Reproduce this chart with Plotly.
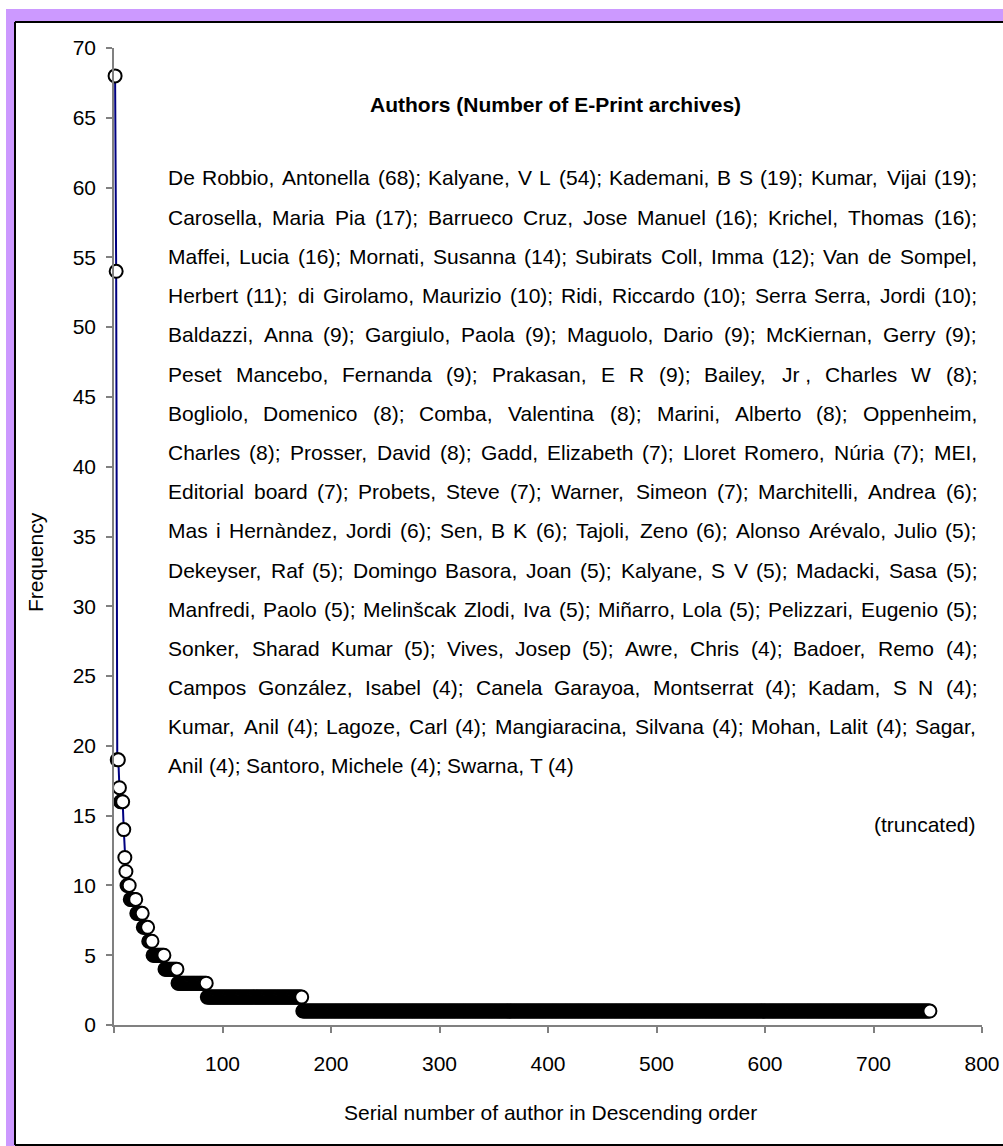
import plotly.graph_objects as go

# ---------------- data ----------------
# frequency distribution: value -> number of authors with that value (descending order)
freq_values = [68, 54, 19, 17, 16, 14, 12, 11, 10, 9, 8, 7, 6, 5, 4, 3, 2, 1]
freq_counts = [1, 1, 2, 1, 3, 1, 1, 1, 3, 6, 6, 5, 4, 11, 12, 27, 88, 579]

x_tick_vals = [0, 100, 200, 300, 400, 500, 600, 700, 800]
x_tick_text = ["", "100", "200", "300", "400", "500", "600", "700", "800"]
y_tick_vals = [0, 5, 10, 15, 20, 25, 30, 35, 40, 45, 50, 55, 60, 65, 70]

title_text = "Authors (Number of E-Print archives)"
text_lines = [
    "De Robbio, Antonella (68); Kalyane, V L (54); Kademani, B S (19); Kumar, Vijai (19);",
    "Carosella, Maria Pia (17); Barrueco Cruz, Jose Manuel (16); Krichel, Thomas (16);",
    "Maffei, Lucia (16); Mornati, Susanna (14); Subirats Coll, Imma (12); Van de Sompel,",
    "Herbert (11); di Girolamo, Maurizio (10); Ridi, Riccardo (10); Serra Serra, Jordi (10);",
    "Baldazzi, Anna (9); Gargiulo, Paola (9); Maguolo, Dario (9); McKiernan, Gerry (9);",
    "Peset Mancebo, Fernanda (9); Prakasan, E R (9); Bailey, Jr , Charles W (8);",
    "Bogliolo, Domenico (8); Comba, Valentina (8); Marini, Alberto (8); Oppenheim,",
    "Charles (8); Prosser, David (8); Gadd, Elizabeth (7); Lloret Romero, Núria (7); MEI,",
    "Editorial board (7); Probets, Steve (7); Warner, Simeon (7); Marchitelli, Andrea (6);",
    "Mas i Hernàndez, Jordi (6); Sen, B K (6); Tajoli, Zeno (6); Alonso Arévalo, Julio (5);",
    "Dekeyser, Raf (5); Domingo Basora, Joan (5); Kalyane, S V (5); Madacki, Sasa (5);",
    "Manfredi, Paolo (5); Melinšcak Zlodi, Iva (5); Miñarro, Lola (5); Pelizzari, Eugenio (5);",
    "Sonker, Sharad Kumar (5); Vives, Josep (5); Awre, Chris (4); Badoer, Remo (4);",
    "Campos González, Isabel (4); Canela Garayoa, Montserrat (4); Kadam, S N (4);",
    "Kumar, Anil (4); Lagoze, Carl (4); Mangiaracina, Silvana (4); Mohan, Lalit (4); Sagar,",
    "Anil (4); Santoro, Michele (4); Swarna, T (4)",
]
note_text = "(truncated)"

# expand distribution into the series
freq = []
for v, c in zip(freq_values, freq_counts):
    freq.extend([v] * c)
serial = list(range(1, len(freq) + 1))

# ---------------- layout helpers ----------------
W, H = 1003, 1146
FONT = "Liberation Sans, Arial, Helvetica, sans-serif"


def px(x):
    return min(max(x / W, 0.0), 1.0)


def py(y):
    return min(max(1 - y / H, 0.0), 1.0)


# Arial / Liberation Sans advance widths (per 1000 em)
AW = {' ': 278, '!': 278, '(': 333, ')': 333, ',': 278, '-': 333, '.': 278, ':': 278, ';': 278,
      'A': 667, 'B': 667, 'C': 722, 'D': 722, 'E': 667, 'F': 611, 'G': 778, 'H': 722, 'I': 278,
      'J': 500, 'K': 667, 'L': 556, 'M': 833, 'N': 722, 'O': 778, 'P': 667, 'Q': 778, 'R': 722,
      'S': 667, 'T': 611, 'U': 722, 'V': 667, 'W': 944, 'X': 667, 'Y': 667, 'Z': 611,
      'a': 556, 'b': 556, 'c': 500, 'd': 556, 'e': 556, 'f': 278, 'g': 556, 'h': 556, 'i': 222,
      'j': 222, 'k': 500, 'l': 222, 'm': 833, 'n': 556, 'o': 556, 'p': 556, 'q': 556, 'r': 333,
      's': 500, 't': 278, 'u': 556, 'v': 500, 'w': 722, 'x': 500, 'y': 500, 'z': 500,
      'š': 500, 'ñ': 556, 'ú': 556, 'à': 556, 'é': 556, 'á': 556}


def tw(s, size):
    return sum(AW.get(ch, 556) for ch in s) * size / 1000.0


TEXT_SIZE = 21
TEXT_LEFT, TEXT_RIGHT = 167, 976
LINE_Y0, LINE_DY = 178, 39.2

annotations = []
for i, line in enumerate(text_lines):
    words = line.replace("Jr ,", "Jr\u00a0,").split(" ")
    widths = [tw(w.replace("\u00a0", " "), TEXT_SIZE) for w in words]
    last = i == len(text_lines) - 1
    if last or len(words) < 2:
        gap = tw(" ", TEXT_SIZE)
    else:
        gap = (TEXT_RIGHT - TEXT_LEFT - sum(widths)) / (len(words) - 1)
        gap = max(gap, 2.5)
    xcur = TEXT_LEFT
    ypos = LINE_Y0 + i * LINE_DY
    for w, wd in zip(words, widths):
        annotations.append(dict(x=px(xcur), y=py(ypos), xref="paper", yref="paper",
                                text=w, showarrow=False, xanchor="left", yanchor="middle",
                                font=dict(family=FONT, size=TEXT_SIZE, color="black"),
                                borderpad=0))
        xcur += wd + gap

annotations.append(dict(x=px(555), y=py(104), xref="paper", yref="paper",
                        text="<b>" + title_text + "</b>", showarrow=False,
                        xanchor="center", yanchor="middle",
                        font=dict(family=FONT, size=21, color="black")))
annotations.append(dict(x=px(978), y=py(824), xref="paper", yref="paper",
                        text=note_text, showarrow=False, xanchor="right", yanchor="middle",
                        font=dict(family=FONT, size=TEXT_SIZE, color="black")))
annotations.append(dict(x=px(35), y=py(562), xref="paper", yref="paper",
                        text="Frequency", showarrow=False, textangle=-90,
                        xanchor="center", yanchor="middle",
                        font=dict(family=FONT, size=21, color="black")))
annotations.append(dict(x=px(550), y=py(1112), xref="paper", yref="paper",
                        text="Serial number of author in Descending order", showarrow=False,
                        xanchor="center", yanchor="middle",
                        font=dict(family=FONT, size=21, color="black")))

shapes = [
    dict(type="rect", xref="paper", yref="paper", x0=px(6), x1=1, y0=0, y1=py(9),
         fillcolor="#CC99FF", line=dict(width=0), layer="below"),
    dict(type="rect", xref="paper", yref="paper", x0=px(15), x1=1, y0=py(1145), y1=py(22),
         fillcolor="white", line=dict(width=0), layer="below"),
    dict(type="line", xref="paper", yref="paper", x0=px(15), x1=1, y0=py(22), y1=py(22),
         line=dict(color="black", width=2), layer="below"),
    dict(type="line", xref="paper", yref="paper", x0=px(15), x1=px(15), y0=py(22), y1=py(1145),
         line=dict(color="black", width=2), layer="below"),
    dict(type="line", xref="paper", yref="paper", x0=px(15), x1=1, y0=py(1145), y1=py(1145),
         line=dict(color="black", width=2), layer="below"),
]

fig = go.Figure()
fig.add_trace(go.Scatter(
    x=serial, y=freq, mode="lines+markers",
    line=dict(color="#000080", width=2),
    marker=dict(symbol="circle", size=13, color="white", line=dict(color="black", width=2)),
    showlegend=False, cliponaxis=False,
))

fig.update_layout(
    width=W, height=H, autosize=False,
    margin=dict(l=0, r=0, t=0, b=0, pad=0, autoexpand=False),
    paper_bgcolor="white", plot_bgcolor="rgba(0,0,0,0)",
    font=dict(family=FONT, size=21, color="black"),
    shapes=shapes, annotations=annotations,
    xaxis=dict(domain=[px(114), px(982)], range=[0, 800], automargin=False,
               tickmode="array", tickvals=x_tick_vals, ticktext=x_tick_text,
               ticks="outside", ticklen=6, tickwidth=1.5, tickcolor="#808080",
               showline=True, linecolor="#808080", linewidth=1.5,
               showgrid=False, zeroline=False, ticklabelstandoff=13,
               tickfont=dict(family=FONT, size=21, color="black")),
    yaxis=dict(domain=[py(1025), py(48)], range=[0, 70], automargin=False,
               tickmode="array", tickvals=y_tick_vals,
               ticks="outside", ticklen=6, tickwidth=1.5, tickcolor="#808080",
               showline=True, linecolor="#808080", linewidth=1.5,
               showgrid=False, zeroline=False, ticklabelstandoff=6,
               tickfont=dict(family=FONT, size=21, color="black")),
)

fig.write_html("out.html")
